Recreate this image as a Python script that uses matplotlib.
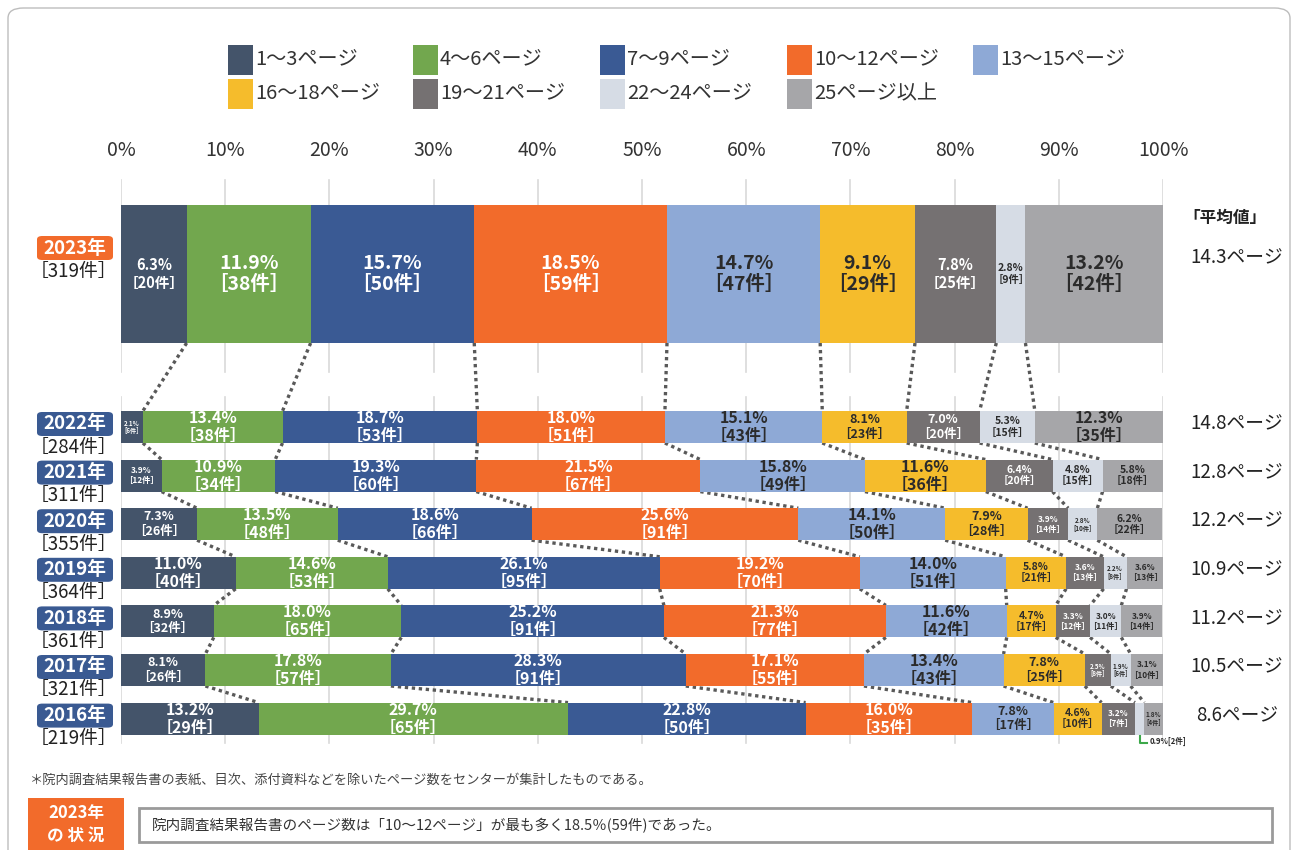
import matplotlib
matplotlib.use("Agg")
import matplotlib.pyplot as plt
from matplotlib.patches import FancyBboxPatch, Rectangle
import numpy as np

plt.rcParams['font.family'] = ['Noto Sans CJK JP', 'DejaVu Sans']

# ---- data ----
categories = ["1～3ページ", "4～6ページ", "7～9ページ", "10～12ページ", "13～15ページ",
              "16～18ページ", "19～21ページ", "22～24ページ", "25ページ以上"]
years = ["2023年", "2022年", "2021年", "2020年", "2019年", "2018年", "2017年", "2016年"]
totals = [319, 284, 311, 355, 364, 361, 321, 219]
averages = ["14.3ページ", "14.8ページ", "12.8ページ", "12.2ページ", "10.9ページ",
            "11.2ページ", "10.5ページ", "8.6ページ"]

pct_2023 = [6.3, 11.9, 15.7, 18.5, 14.7, 9.1, 7.8, 2.8, 13.2]
pct_2022 = [2.1, 13.4, 18.7, 18.0, 15.1, 8.1, 7.0, 5.3, 12.3]
pct_2021 = [3.9, 10.9, 19.3, 21.5, 15.8, 11.6, 6.4, 4.8, 5.8]
pct_2020 = [7.3, 13.5, 18.6, 25.6, 14.1, 7.9, 3.9, 2.8, 6.2]
pct_2019 = [11.0, 14.6, 26.1, 19.2, 14.0, 5.8, 3.6, 2.2, 3.6]
pct_2018 = [8.9, 18.0, 25.2, 21.3, 11.6, 4.7, 3.3, 3.0, 3.9]
pct_2017 = [8.1, 17.8, 28.3, 17.1, 13.4, 7.8, 2.5, 1.9, 3.1]
pct_2016 = [13.2, 29.7, 22.8, 16.0, 7.8, 4.6, 3.2, 0.9, 1.8]

cnt_2023 = [20, 38, 50, 59, 47, 29, 25, 9, 42]
cnt_2022 = [6, 38, 53, 51, 43, 23, 20, 15, 35]
cnt_2021 = [12, 34, 60, 67, 49, 36, 20, 15, 18]
cnt_2020 = [26, 48, 66, 91, 50, 28, 14, 10, 22]
cnt_2019 = [40, 53, 95, 70, 51, 21, 13, 8, 13]
cnt_2018 = [32, 65, 91, 77, 42, 17, 12, 11, 14]
cnt_2017 = [26, 57, 91, 55, 43, 25, 8, 6, 10]
cnt_2016 = [29, 65, 50, 35, 17, 10, 7, 2, 4]

x_ticks = [0, 10, 20, 30, 40, 50, 60, 70, 80, 90, 100]

pct = np.array([pct_2023, pct_2022, pct_2021, pct_2020, pct_2019, pct_2018, pct_2017, pct_2016])
cnt = np.array([cnt_2023, cnt_2022, cnt_2021, cnt_2020, cnt_2019, cnt_2018, cnt_2017, cnt_2016])

# ---- style ----
colors = ["#44546A", "#72A74E", "#3A5A94", "#F26B2B", "#8EA9D6",
          "#F5BC2C", "#757172", "#D6DCE5", "#A6A6A9"]
text_colors = ["white", "white", "white", "white", "#2B2B2B",
               "#2B2B2B", "white", "#2B2B2B", "#2B2B2B"]

W, H = 1292, 850
fig = plt.figure(figsize=(W / 100, H / 100), dpi=100)
fig.patch.set_facecolor("white")


def fx(px):
    return px / W


def fy(py):
    return 1 - py / H


# outer frame
fig.patches.append(FancyBboxPatch((fx(8), fy(880)), fx(1282), 872 / H,
                                  boxstyle="round,pad=0,rounding_size=0.012",
                                  transform=fig.transFigure, facecolor="none",
                                  edgecolor="#BDBDBD", lw=1.0, zorder=0))

ax = fig.add_axes([fx(121), 0, 1042 / W, 1])
ax.set_xlim(0, 100)
ax.set_ylim(H, 0)
ax.axis("off")

# row geometry (in pixel-like y units of the axes)
centers = [274] + [427 + i * 48.6 for i in range(7)]
heights = [138] + [32] * 7

# grid lines, in two blocks
for t in x_ticks:
    ax.plot([t, t], [180, 372], color="#D9D9D9", lw=1.2, zorder=0)
    ax.plot([t, t], [397, 743], color="#D9D9D9", lw=1.2, zorder=0)
    ax.text(t, 150, f"{t}%", ha="center", va="center", fontsize=14, color="#333333")

cum = np.hstack([np.zeros((len(years), 1)), np.cumsum(pct, axis=1)])

# stacked bars
for k in range(len(categories)):
    ax.barh(centers, pct[:, k], left=cum[:, k], height=heights,
            color=colors[k], edgecolor="none", zorder=2)

# dotted connectors between consecutive rows
for r in range(len(years) - 1):
    yb = centers[r] + heights[r] / 2
    yt = centers[r + 1] - heights[r + 1] / 2
    for k in range(1, len(categories)):
        ax.plot([cum[r, k], cum[r + 1, k]], [yb, yt], color="#595959",
                lw=2.4, linestyle=(0, (1, 1.1)), zorder=1, solid_capstyle="butt")


def label_size(w, top):
    if top:
        if w >= 9:
            return 14
        if w >= 6:
            return 10.5
        return 7.5
    if w >= 10:
        return 11.5
    if w >= 7:
        return 9
    if w >= 4.5:
        return 7.5
    if w >= 3:
        return 6
    return 4.5


# value labels inside segments
for r in range(len(years)):
    for k in range(len(categories)):
        w = pct[r, k]
        if w < 1.0:
            continue
        fs = label_size(w, r == 0)
        if w < 3 and r > 0:
            count_txt = f"[{cnt[r, k]}件]"
        else:
            count_txt = f"［{cnt[r, k]}件］"
        ax.text(cum[r, k] + w / 2, centers[r], f"{w:.1f}%\n{count_txt}",
                ha="center", va="center", fontsize=fs, fontweight="bold",
                color=text_colors[k], linespacing=1.15, zorder=3)

# callout for the thin 2016 segment
r_last = len(years) - 1
k_thin = 7
xc = cum[r_last, k_thin] + pct[r_last, k_thin] / 2
yb = centers[r_last] + heights[r_last] / 2
ax.plot([xc, xc, xc + 0.7], [yb + 1, yb + 8, yb + 8], color="#3CA84A", lw=1.5,
        clip_on=False, zorder=3)
ax.text(xc + 1.0, yb + 7, f"{pct[r_last, k_thin]:.1f}%[{cnt[r_last, k_thin]}件]",
        ha="left", va="center", fontsize=5.5, fontweight="bold", color="#2B2B2B")

# year tags and totals
for r in range(len(years)):
    box_c = centers[r] - 3 if r > 0 else 248
    fc = "#F26B2B" if r == 0 else "#3A5A92"
    fig.patches.append(FancyBboxPatch((fx(37), fy(box_c + 12)), 76 / W, 24 / H,
                                      boxstyle="round,pad=0,rounding_size=0.004",
                                      transform=fig.transFigure, facecolor=fc,
                                      edgecolor="none", zorder=2))
    fig.text(fx(75), fy(box_c), years[r], ha="center", va="center", fontsize=13.5,
             fontweight="bold", color="white", zorder=3)
    fig.text(fx(73), fy(box_c + 23), f"［{totals[r]}件］", ha="center", va="center",
             fontsize=13.5, color="#222222")

# averages
fig.text(fx(1225), fy(218), "「平均値」", ha="center", va="center", fontsize=12,
         fontweight="bold", color="#222222")
for r in range(len(years)):
    yy = 258 if r == 0 else centers[r] - 3
    fig.text(fx(1237), fy(yy), averages[r], ha="center", va="center",
             fontsize=13.5, color="#222222")

# legend
leg_x = [228, 413, 600, 787, 973]
leg_y = [60, 94]
for i, name in enumerate(categories):
    row, col = divmod(i, 5)
    x0, yc = leg_x[col], leg_y[row]
    fig.patches.append(Rectangle((fx(x0), fy(yc + 15)), 25 / W, 30 / H,
                                 transform=fig.transFigure, facecolor=colors[i],
                                 edgecolor="none"))
    fig.text(fx(x0 + 27), fy(yc), name, ha="left", va="center", fontsize=14.5,
             color="#333333")

# footnote
fig.text(fx(30), fy(780), "＊院内調査結果報告書の表紙、目次、添付資料などを除いたページ数をセンターが集計したものである。",
         ha="left", va="center", fontsize=9.5, color="#444444")

# summary box
fig.patches.append(Rectangle((fx(28), fy(860)), 96 / W, 62 / H, transform=fig.transFigure,
                             facecolor="#F26B2B", edgecolor="none"))
fig.text(fx(76), fy(813), "2023年", ha="center", va="center", fontsize=12,
         fontweight="bold", color="white")
fig.text(fx(76), fy(836), "の 状 況", ha="center", va="center", fontsize=12,
         fontweight="bold", color="white")
fig.patches.append(Rectangle((fx(139), fy(842)), 1133 / W, 34 / H, transform=fig.transFigure,
                             facecolor="white", edgecolor="#9A9A9A", lw=2))
fig.text(fx(152), fy(826), "院内調査結果報告書のページ数は「10～12ページ」が最も多く18.5％(59件)であった。",
         ha="left", va="center", fontsize=10.5, color="#333333")

fig.savefig("out.png", dpi=100, facecolor="white")
